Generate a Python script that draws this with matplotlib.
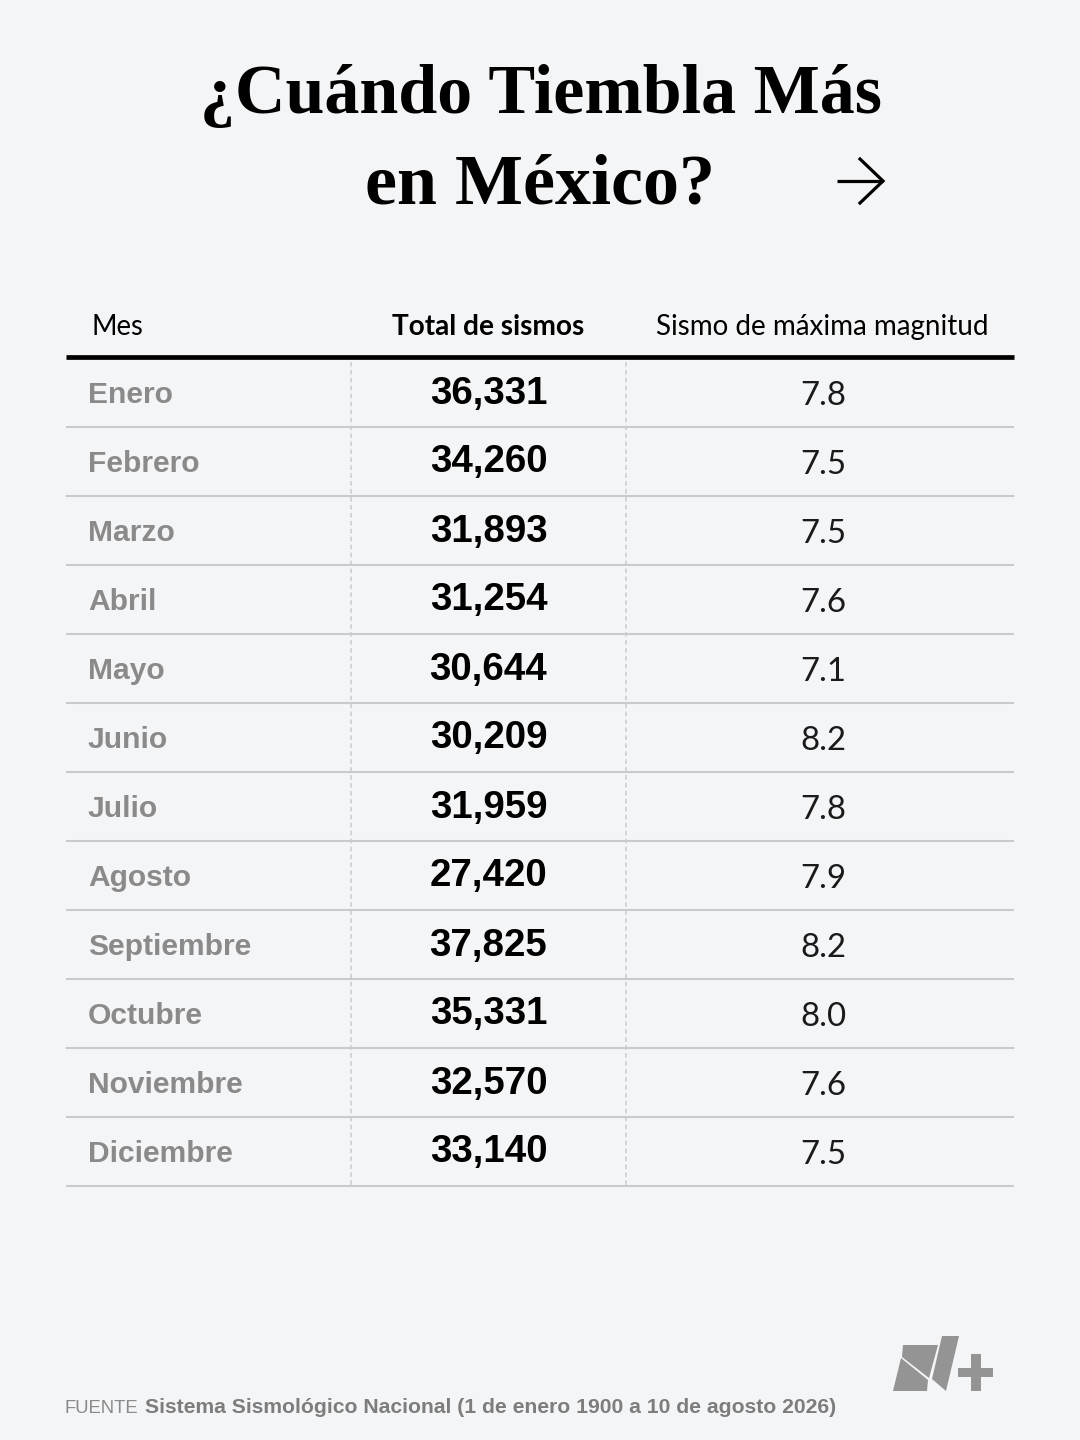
import matplotlib
matplotlib.use("Agg")
import matplotlib.pyplot as plt
from matplotlib.patches import Polygon

# datos de la tabla
meses = ["Enero", "Febrero", "Marzo", "Abril", "Mayo", "Junio", "Julio",
         "Agosto", "Septiembre", "Octubre", "Noviembre", "Diciembre"]
totales = [36331, 34260, 31893, 31254, 30644, 30209, 31959,
           27420, 37825, 35331, 32570, 33140]
magnitudes = [7.8, 7.5, 7.5, 7.6, 7.1, 8.2, 7.8, 7.9, 8.2, 8.0, 7.6, 7.5]
encabezados = ["Mes", "Total de sismos", "Sismo de máxima magnitud"]

FONDO = "#f4f5f7"
GRIS_MES = "#8a8a8a"
GRIS_LINEA = "#c9cacb"
GRIS_LOGO = "#949494"


def px(size):
    # tamaño de letra en pixeles a puntos (dpi 100)
    return size * 0.72


fig = plt.figure(figsize=(10.8, 14.4), dpi=100, facecolor=FONDO)
ax = fig.add_axes([0, 0, 1, 1])
ax.set_xlim(0, 1080)
ax.set_ylim(1440, 0)
ax.axis("off")

# titulo
ax.text(541, 113, "¿Cuándo Tiembla Más", family="Liberation Serif", weight="bold",
        fontsize=px(70), ha="center", va="baseline", color="black")
ax.text(540, 203, "en México?", family="Liberation Serif", weight="bold",
        fontsize=px(72), ha="center", va="baseline", color="black")

# flecha
ax.plot([837, 883], [181, 181], color="black", lw=2.3, solid_capstyle="butt")
ax.plot([860, 883, 860], [159, 181, 203], color="black", lw=2.3, solid_joinstyle="miter")

# encabezados
ax.text(92, 335, encabezados[0], family="Lato", fontsize=px(27.5), ha="left", va="baseline")
ax.text(488.5, 335, encabezados[1], family="Lato", weight="bold", fontsize=px(28),
        ha="center", va="baseline")
ax.text(822, 335, encabezados[2], family="Lato", fontsize=px(27.7), ha="center", va="baseline")
ax.plot([66, 1014], [357, 357], color="black", lw=3.4, solid_capstyle="butt")

# filas
y_inicio = 358
alto = 69
for i, mes in enumerate(meses):
    y_base = y_inicio + alto * (i + 1)
    ax.plot([66, 1014], [y_base, y_base], color=GRIS_LINEA, lw=1.5, solid_capstyle="butt")
    ax.text(88, y_base - 24, mes, family="Liberation Sans", weight="bold",
            fontsize=px(30), color=GRIS_MES, ha="left", va="baseline")
    ax.text(488.5, y_base - 23.5, f"{totales[i]:,}", family="Liberation Sans", weight="bold",
            fontsize=px(38.5), color="black", ha="center", va="baseline")
    ax.text(823.5, y_base - 22, f"{magnitudes[i]:.1f}", family="Lato",
            fontsize=px(33), color="#1a1a1a", ha="center", va="baseline")

# separadores punteados
for x in [351, 626]:
    ax.plot([x, x], [362, 1186], color=GRIS_LINEA, lw=1.1, dashes=(3, 2.2))

# logo
logo = [
    [(903, 1345), (938, 1345), (929, 1378), (902, 1357)],
    [(901, 1358), (928, 1380), (927, 1391), (893, 1391)],
    [(942, 1336), (959, 1336), (946, 1391), (932, 1379)],
    [(958, 1368), (993, 1368), (993, 1377), (958, 1377)],
    [(971, 1354), (981, 1354), (981, 1391), (971, 1391)],
]
for poligono in logo:
    ax.add_patch(Polygon(poligono, closed=True, facecolor=GRIS_LOGO, edgecolor="none"))

# fuente
ax.text(65, 1413, "FUENTE", family="Liberation Sans", fontsize=px(18.5),
        color="#8a8a8a", ha="left", va="baseline")
ax.text(145, 1413, "Sistema Sismológico Nacional (1 de enero 1900 a 10 de agosto 2026)",
        family="Liberation Sans", weight="bold", fontsize=px(21.2), color="#7d7d7d",
        ha="left", va="baseline")

fig.savefig("out.png", dpi=100, facecolor=FONDO)
